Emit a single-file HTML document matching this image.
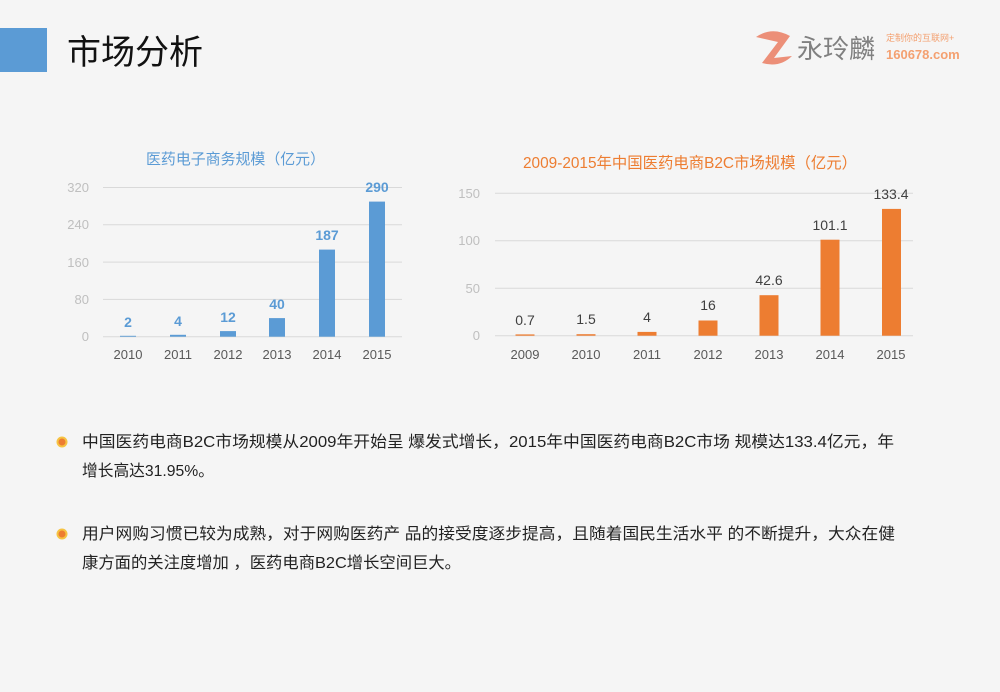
<!DOCTYPE html>
<html><head><meta charset="utf-8"><style>
body{margin:0;background:#f5f5f5;}
svg{display:block;font-family:"Liberation Sans","Noto Sans CJK SC",sans-serif;}
</style></head><body>
<svg width="1000" height="692" viewBox="0 0 1000 692">
<rect width="1000" height="692" fill="#f5f5f5"/>
<rect x="0" y="28" width="47" height="44" fill="#5b9bd5"/>
<text x="67" y="64" font-size="34" fill="#111">市场分析</text>
<!-- logo -->
<path d="M756 37 Q772 26 790 36 L774 58 L792 56 Q780 68 762 63 L778 42 Z" fill="#ec8f78"/>
<text x="797" y="58" font-size="26" fill="#808080">永玲麟</text>
<text x="886" y="41" font-size="9" fill="#f4a070">定制你的互联网+</text>
<text x="886" y="59" font-size="13" font-weight="bold" fill="#f4a070">160678.com</text>

<!-- left chart -->
<text x="146" y="164" font-size="15" fill="#5b9bd5" textLength="179" lengthAdjust="spacingAndGlyphs">医药电子商务规模（亿元）</text>
<g stroke="#d9d9d9" stroke-width="1">
<line x1="103" x2="402" y1="187.5" y2="187.5"/><line x1="103" x2="402" y1="224.8" y2="224.8"/>
<line x1="103" x2="402" y1="262.1" y2="262.1"/><line x1="103" x2="402" y1="299.4" y2="299.4"/>
<line x1="103" x2="402" y1="336.7" y2="336.7"/></g>
<g font-size="13" fill="#bfbfbf" text-anchor="end">
<text x="89" y="192">320</text><text x="89" y="229">240</text><text x="89" y="267">160</text><text x="89" y="304">80</text><text x="89" y="341">0</text></g>
<g fill="#5b9bd5">
<rect x="120" y="335.8" width="16" height="0.9"/>
<rect x="170" y="334.8" width="16" height="1.9"/>
<rect x="220" y="331.1" width="16" height="5.6"/>
<rect x="269" y="318.1" width="16" height="18.6"/>
<rect x="319" y="249.6" width="16" height="87.1"/>
<rect x="369" y="201.6" width="16" height="135.1"/></g>
<g font-size="14" font-weight="bold" fill="#5b9bd5" text-anchor="middle">
<text x="128" y="327">2</text><text x="178" y="326">4</text><text x="228" y="322">12</text>
<text x="277" y="309">40</text><text x="327" y="240">187</text><text x="377" y="192">290</text></g>
<g font-size="13" fill="#595959" text-anchor="middle">
<text x="128" y="359">2010</text><text x="178" y="359">2011</text><text x="228" y="359">2012</text>
<text x="277" y="359">2013</text><text x="327" y="359">2014</text><text x="377" y="359">2015</text></g>

<!-- right chart -->
<text x="523" y="168" font-size="15.5" fill="#ed7d31" textLength="334" lengthAdjust="spacingAndGlyphs">2009-2015年中国医药电商B2C市场规模（亿元）</text>
<g stroke="#d9d9d9" stroke-width="1">
<line x1="495" x2="913" y1="193.3" y2="193.3"/><line x1="495" x2="913" y1="240.8" y2="240.8"/>
<line x1="495" x2="913" y1="288.3" y2="288.3"/><line x1="495" x2="913" y1="335.7" y2="335.7"/></g>
<g font-size="13" fill="#bfbfbf" text-anchor="end">
<text x="480" y="198">150</text><text x="480" y="245">100</text><text x="480" y="293">50</text><text x="480" y="340">0</text></g>
<g fill="#ed7d31">
<rect x="515.5" y="334.4" width="19" height="1.3"/>
<rect x="576.5" y="334.2" width="19" height="1.5"/>
<rect x="637.5" y="331.9" width="19" height="3.8"/>
<rect x="698.5" y="320.5" width="19" height="15.2"/>
<rect x="759.5" y="295.2" width="19" height="40.5"/>
<rect x="820.5" y="239.7" width="19" height="96"/>
<rect x="882" y="208.9" width="19" height="126.8"/></g>
<g font-size="14" fill="#404040" text-anchor="middle">
<text x="525" y="325">0.7</text><text x="586" y="324">1.5</text><text x="647" y="322">4</text>
<text x="708" y="310">16</text><text x="769" y="285">42.6</text><text x="830" y="230">101.1</text><text x="891" y="199">133.4</text></g>
<g font-size="13" fill="#595959" text-anchor="middle">
<text x="525" y="359">2009</text><text x="586" y="359">2010</text><text x="647" y="359">2011</text>
<text x="708" y="359">2012</text><text x="769" y="359">2013</text><text x="830" y="359">2014</text><text x="891" y="359">2015</text></g>

<!-- bullets -->
<circle cx="62" cy="442" r="5.5" fill="#f6c342"/><circle cx="62" cy="442" r="3.5" fill="#ed7d31"/>
<circle cx="62" cy="534" r="5.5" fill="#f6c342"/><circle cx="62" cy="534" r="3.5" fill="#ed7d31"/>
<g font-size="16" fill="#222" lengthAdjust="spacingAndGlyphs">
<text x="82" y="447" textLength="812" lengthAdjust="spacingAndGlyphs">中国医药电商B2C市场规模从2009年开始呈 爆发式增长，2015年中国医药电商B2C市场 规模达133.4亿元，年</text>
<text x="82" y="476" textLength="132" lengthAdjust="spacingAndGlyphs">增长高达31.95%。</text>
<text x="82" y="539" textLength="813" lengthAdjust="spacingAndGlyphs">用户网购习惯已较为成熟，对于网购医药产 品的接受度逐步提高，且随着国民生活水平 的不断提升，大众在健</text>
<text x="82" y="568" textLength="379" lengthAdjust="spacingAndGlyphs">康方面的关注度增加 ，医药电商B2C增长空间巨大。</text>
</g>
</svg>
</body></html>
